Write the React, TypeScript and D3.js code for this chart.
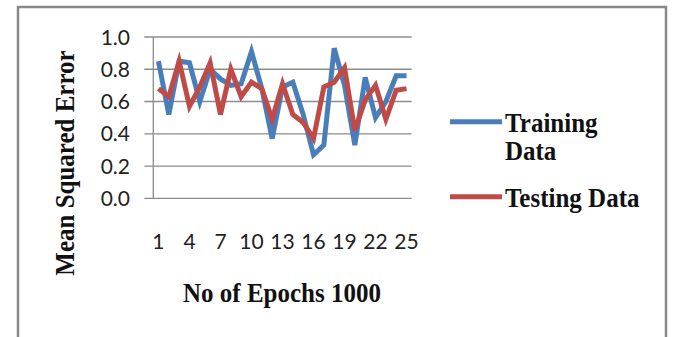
import React from "react";
import * as d3 from "d3";

const epochs: number[] = d3.range(1, 26);
const trainingData: number[] = [0.85, 0.52, 0.85, 0.84, 0.60, 0.80, 0.74, 0.70, 0.71, 0.91, 0.68, 0.37, 0.69, 0.72, 0.52, 0.27, 0.33, 0.93, 0.70, 0.33, 0.75, 0.50, 0.60, 0.76, 0.76];
const testingData: number[] = [0.68, 0.63, 0.85, 0.57, 0.69, 0.84, 0.52, 0.80, 0.63, 0.72, 0.68, 0.49, 0.71, 0.52, 0.47, 0.37, 0.69, 0.72, 0.81, 0.42, 0.61, 0.70, 0.49, 0.67, 0.68];
const yTicks: number[] = [0, 0.2, 0.4, 0.6, 0.8, 1.0];
const xTickLabels: number[] = [1, 4, 7, 10, 13, 16, 19, 22, 25];
const seriesNames: string[][] = [["Training", "Data"], ["Testing Data"]];
const colors: string[] = ["#4A7EBB", "#BE4B48"];

const W = 673, H = 337;
const plot = { left: 153.3, right: 411.7, top: 37, bottom: 198.3 };

export default function App() {
  const x = d3.scaleBand<number>().domain(epochs).range([plot.left, plot.right]);
  const y = d3.scaleLinear().domain([0, 1]).range([plot.bottom, plot.top]);
  const cx = (e: number) => (x(e) as number) + x.bandwidth() / 2;
  const line = d3.line<number>().x((_, i) => cx(epochs[i])).y((d) => y(d));
  const series = [trainingData, testingData];
  const tickFont = "Lato, 'Open Sans', sans-serif";
  const titleFont = "'Liberation Serif', 'Times New Roman', serif";
  const legendY = [121.7, 196.7];
  const sy = 1.12;

  return (
    <svg width={W} height={H} style={{ position: "absolute", left: 0, top: 0, background: "#fff" }}>
      <rect x={0} y={0} width={W} height={H} fill="#fff" />
      <rect x={18} y={7} width={648} height={H + 20} fill="none" stroke="#888" strokeWidth={2.5} />
      {yTicks.map((t) => (
        <g key={t}>
          <line x1={plot.left - 9} x2={plot.right} y1={y(t)} y2={y(t)} stroke="#8c8c8c" strokeWidth={1.3} />
          <text x={130} y={y(t)} dy="0.36em" textAnchor="end" fontFamily={tickFont} fontSize={21} fill="#222">
            {t.toFixed(1)}
          </text>
        </g>
      ))}
      <line x1={plot.left} x2={plot.left} y1={plot.top} y2={plot.bottom} stroke="#8c8c8c" strokeWidth={1.3} />
      {xTickLabels.map((e) => (
        <text key={e} x={cx(e)} y={249} textAnchor="middle" fontFamily={tickFont} fontSize={21} fill="#222">
          {e}
        </text>
      ))}
      {series.map((s, i) => (
        <path key={i} d={line(s) as string} fill="none" stroke={colors[i]} strokeWidth={5} strokeLinejoin="miter" />
      ))}
      <text
        transform={`translate(74,163) rotate(-90) scale(1,${sy})`}
        textAnchor="middle"
        fontFamily={titleFont}
        fontWeight="bold"
        fontSize={25}
        fill="#111"
      >
        Mean Squared Error
      </text>
      <text
        transform={`translate(282,302) scale(1,${sy})`}
        textAnchor="middle"
        fontFamily={titleFont}
        fontWeight="bold"
        fontSize={25}
        fill="#111"
      >
        No of Epochs 1000
      </text>
      {seriesNames.map((lines, i) => (
        <g key={i}>
          <line x1={450} x2={502} y1={legendY[i]} y2={legendY[i]} stroke={colors[i]} strokeWidth={5} />
          {lines.map((txt, j) => (
            <text
              key={j}
              transform={`translate(505,${legendY[i] + 10 + j * 28.5}) scale(1,${sy})`}
              fontFamily={titleFont}
              fontWeight="bold"
              fontSize={25}
              fill="#111"
            >
              {txt}
            </text>
          ))}
        </g>
      ))}
    </svg>
  );
}
